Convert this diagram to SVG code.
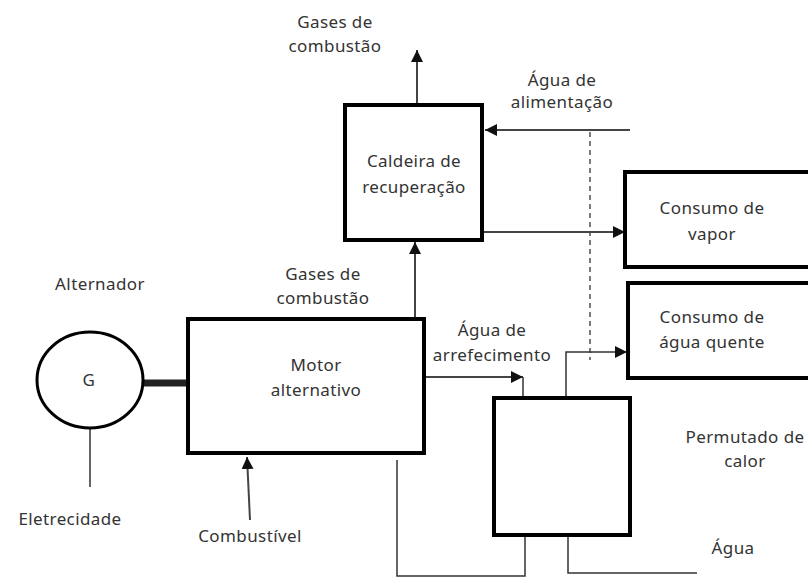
<svg xmlns="http://www.w3.org/2000/svg" width="808" height="578" viewBox="0 0 808 578">
<defs>
<marker id="ahb" viewBox="0 0 10 10" refX="10" refY="5" markerWidth="12" markerHeight="12" markerUnits="userSpaceOnUse" orient="auto">
<path d="M0,0 L10,5 L0,10 z" fill="#111"/>
</marker>
</defs>
<style>
text{font-family:"Noto Sans","Open Sans",sans-serif;font-size:17px;letter-spacing:0.4px;fill:#333;text-anchor:middle}
.box{fill:#fff;stroke:#000;stroke-width:4}
.ln{fill:none;stroke:#333;stroke-width:1.5}
.ar{fill:none;stroke:#444;stroke-width:2}
</style>
<rect width="808" height="578" fill="#fff"/>
<g id="connectors">
<line class="ar" x1="417" y1="103" x2="417" y2="50" marker-end="url(#ahb)"/>
<line class="ar" x1="630" y1="130" x2="485" y2="130" marker-end="url(#ahb)"/>
<line x1="590" y1="132" x2="590" y2="360" stroke="#333" stroke-width="1.3" stroke-dasharray="5,4"/>
<line class="ar" x1="484" y1="232" x2="625" y2="232" marker-end="url(#ahb)"/>
<line class="ar" x1="415" y1="317" x2="415" y2="242" marker-end="url(#ahb)"/>
<line class="ar" x1="250" y1="520" x2="247" y2="457" marker-end="url(#ahb)"/>
<line x1="143" y1="383" x2="188" y2="383" stroke="#222" stroke-width="7"/>
<line class="ln" x1="90" y1="428" x2="90" y2="487"/>
<polyline class="ar" points="426,377 523,377" marker-end="url(#ahb)"/>
<polyline class="ln" points="523,377 523,397"/>
<polyline class="ln" points="566,397 566,352 627,352" marker-end="url(#ahb)"/>
<polyline class="ln" points="525,536 525,576 397,576 397,460"/>
<polyline class="ln" points="568,536 568,573 697,573"/>
</g>
<g id="caldeira">
<rect class="box" x="345" y="105" width="137" height="135"/>
<text x="414" y="167">Caldeira de</text>
<text x="414" y="193">recuperação</text>
</g>
<g id="consumo-vapor">
<rect class="box" x="625" y="172" width="190" height="95"/>
<text x="712" y="214">Consumo de</text>
<text x="712" y="240">vapor</text>
</g>
<g id="consumo-agua">
<rect class="box" x="628" y="283" width="190" height="95"/>
<text x="712" y="323">Consumo de</text>
<text x="712" y="348">água quente</text>
</g>
<g id="motor">
<rect class="box" x="188" y="319" width="236" height="134"/>
<text x="316" y="371">Motor</text>
<text x="316" y="396">alternativo</text>
</g>
<g id="alternador">
<ellipse cx="90" cy="380" rx="53" ry="48" fill="#fff" stroke="#000" stroke-width="3"/>
<text x="89" y="386">G</text>
</g>
<g id="permutador">
<rect class="box" x="494" y="398" width="136" height="137"/>
</g>
<g id="labels">
<text x="335" y="28">Gases  de</text>
<text x="335" y="52">combustão</text>
<text x="562" y="86">Água de</text>
<text x="562" y="108">alimentação</text>
<text x="323" y="280">Gases  de</text>
<text x="323" y="304">combustão</text>
<text x="100" y="290">Alternador</text>
<text x="70" y="525">Eletrecidade</text>
<text x="250" y="542">Combustível</text>
<text x="492" y="336">Água de</text>
<text x="492" y="361">arrefecimento</text>
<text x="745" y="443">Permutado de</text>
<text x="745" y="467">calor</text>
<text x="733" y="554">Água</text>
</g>
</svg>
